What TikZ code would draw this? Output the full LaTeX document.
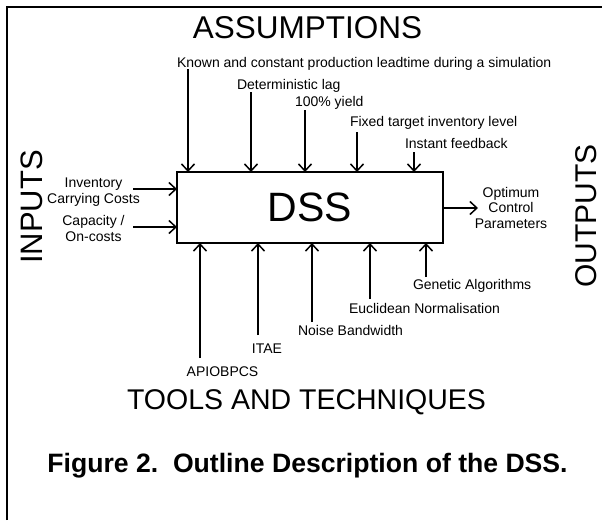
\documentclass[tikz,border=0pt]{standalone}
\usepackage{fontspec}
\setmainfont{Liberation Sans}
\usetikzlibrary{arrows.meta}
\begin{document}
\begin{tikzpicture}[x=1pt,y=-1pt,
  lbl/.style={font=\fontsize{14}{15.5}\selectfont, inner sep=0pt, outer sep=0pt},
  big/.style={inner sep=0pt, outer sep=0pt},
  arr/.style={-{Straight Barb[length=7pt,width=13pt,line width=1.5pt]}, line width=1.8pt},
  box/.style={draw, line width=1.6pt, inner sep=0pt, outer sep=0pt}]
\useasboundingbox (0,0) rectangle (602,520);
\fill[white] (0,0) rectangle (602,520);
\draw[line width=2.5pt] (7,520) -- (7,7) -- (602,7);

% central box
\node[box, minimum width=266pt, minimum height=71pt, anchor=north west,
      font=\fontsize{41}{41}\selectfont] (dss) at (177,172) {DSS};

% headings
\node[big, font=\fontsize{31.5}{32}\selectfont, anchor=base] (assum) at (307.5,38) {ASSUMPTIONS};
\node[big, font=\fontsize{28.5}{29}\selectfont, anchor=base] (tools) at (306.5,409) {TOOLS AND TECHNIQUES};
\node[big, font=\fontsize{31}{31}\selectfont, rotate=90, anchor=base] (inputs) at (42,207) {INPUTS};
\node[big, font=\fontsize{30}{31}\selectfont, rotate=90, anchor=base] (outputs) at (596,216) {OUTPUTS};
\node[big, font=\bfseries\fontsize{26.6}{28}\selectfont, anchor=base] (caption) at (307.5,472) {Figure 2.\ \ Outline Description of the DSS.};

% assumptions
\node[lbl, anchor=base west] (known) at (177,67) {Known and constant production leadtime during a simulation};
\node[lbl, anchor=base west] (det) at (237,89) {Deterministic lag};
\node[lbl, anchor=base west] (yield) at (295,106) {100\% yield};
\node[lbl, anchor=base west] (fixed) at (350,126) {Fixed target inventory level};
\node[lbl, anchor=base west] (instant) at (405,148) {Instant feedback};
\coordinate (t1) at (188,69);
\coordinate (t2) at (251,92);
\coordinate (t3) at (305,110);
\coordinate (t4) at (357,132);
\coordinate (t5) at (414,152);
\foreach \c in {t1,t2,t3,t4,t5} \draw[arr] (\c) -- (\c |- dss.north);

% tools and techniques
\node[lbl, anchor=base] (apio) at (222.5,376) {APIOBPCS};
\node[lbl, anchor=base] (itae) at (267,353) {ITAE};
\node[lbl, anchor=base west] (noise) at (298,335) {Noise Bandwidth};
\node[lbl, anchor=base west] (eucl) at (349,313) {Euclidean Normalisation};
\node[lbl, anchor=base west] (gen) at (413,289) {Genetic Algorithms};
\coordinate (b1) at (200,358);
\coordinate (b2) at (258,335);
\coordinate (b3) at (312,322);
\coordinate (b4) at (370,299);
\coordinate (b5) at (426,277);
\foreach \c in {b1,b2,b3,b4,b5} \draw[arr] (\c) -- (\c |- dss.south);

% inputs
\node[lbl, align=center, anchor=north] (inv) at (93.5,178) {Inventory\\Carrying Costs};
\node[lbl, align=center, anchor=north] (capac) at (93.5,215.5) {Capacity /\\On-costs};
\coordinate (i1) at (133,189);
\coordinate (i2) at (133,227);
\draw[arr] (i1) -- (i1 -| dss.west);
\draw[arr] (i2) -- (i2 -| dss.west);

% outputs
\node[lbl, align=center, anchor=north] (opt) at (511,187) {Optimum\\Control\\Parameters};
\coordinate (o1) at (478,208);
\draw[arr] (o1 -| dss.east) -- (o1);
\end{tikzpicture}
\end{document}
